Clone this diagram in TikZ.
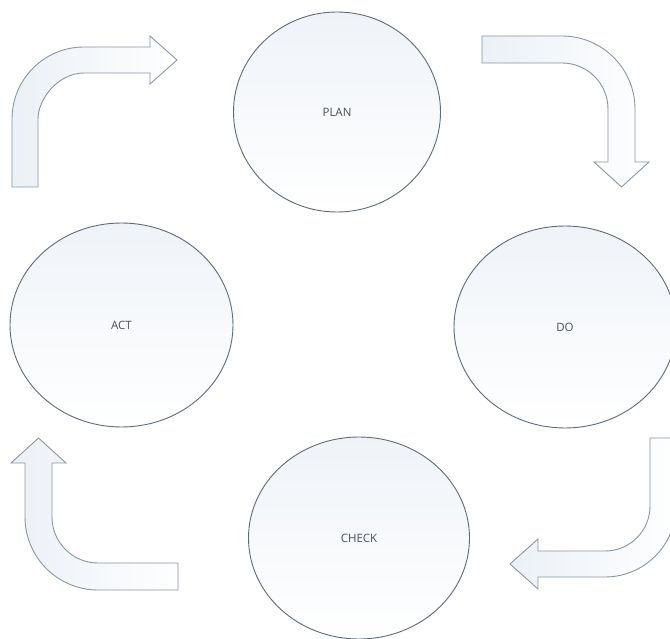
\documentclass[tikz,border=0pt]{standalone}
\usepackage{fontspec}
\setmainfont{Open Sans}
\usetikzlibrary{shapes.geometric}
\definecolor{ringline}{HTML}{5F6B78}
\definecolor{arrowline}{HTML}{8A96A3}
\definecolor{softblue}{HTML}{E8EEF5}
\definecolor{labeltext}{HTML}{4A5058}
\tikzset{
  stage/.style={ellipse, draw=ringline, line width=0.9pt, inner sep=0pt,
    top color=softblue!70, bottom color=white, text=labeltext,
    font=\fontsize{11.5}{13}\selectfont},
  blockarrow/.style={draw=arrowline, line width=0.9pt, line join=miter,
    left color=softblue!85, right color=white!97!softblue}
}
\begin{document}
\begin{tikzpicture}[x=1pt,y=-1pt]
\useasboundingbox (0,0) rectangle (670,639);
\fill[white] (0,0) rectangle (670,639);

% stages
\node[stage, minimum width=207pt, minimum height=200pt] (plan) at (337,112) {PLAN};
\node[stage, minimum width=222pt, minimum height=202pt] (do) at (565,327) {DO};
\node[stage, minimum width=221pt, minimum height=202pt] (check) at (359,538) {CHECK};
\node[stage, minimum width=223pt, minimum height=204pt] (act) at (121.5,325) {ACT};

% arrow: act -> plan (top-left)
\path[blockarrow] (12,187) -- (12,119)
  .. controls (12,79.2) and (44.2,47) .. (84,47)
  -- (150,47) -- (150,36) -- (177,60) -- (150,84) -- (150,73) -- (84,73)
  .. controls (58.6,73) and (38,98.4) .. (38,119)
  -- (38,187) -- cycle;

% arrow: plan -> do (top-right)
\path[blockarrow] (482,36) -- (562,36)
  .. controls (602.3,36) and (635,68.7) .. (635,109)
  -- (635,162) -- (649,162) -- (621.5,187) -- (594,162) -- (608,162) -- (608,109)
  .. controls (608,83.6) and (587.4,63) .. (562,63)
  -- (482,63) -- cycle;

% arrow: do -> check (bottom-right)
\path[blockarrow] (650,438) -- (676,438) -- (676,506)
  .. controls (676,545.2) and (644.2,577) .. (605,577)
  -- (538,577) -- (538,589) -- (510,564) -- (538,539) -- (538,551) -- (605,551)
  .. controls (629.9,551) and (650,530.9) .. (650,506)
  -- cycle;

% arrow: check -> act (bottom-left)
\path[blockarrow] (178,563) -- (98,563)
  .. controls (72.6,563) and (52,542.4) .. (52,517)
  -- (52,463) -- (66,463) -- (38.5,438) -- (11,463) -- (25,463) -- (25,517)
  .. controls (25,557.3) and (57.7,590) .. (98,590)
  -- (178,590) -- cycle;
\end{tikzpicture}
\end{document}
